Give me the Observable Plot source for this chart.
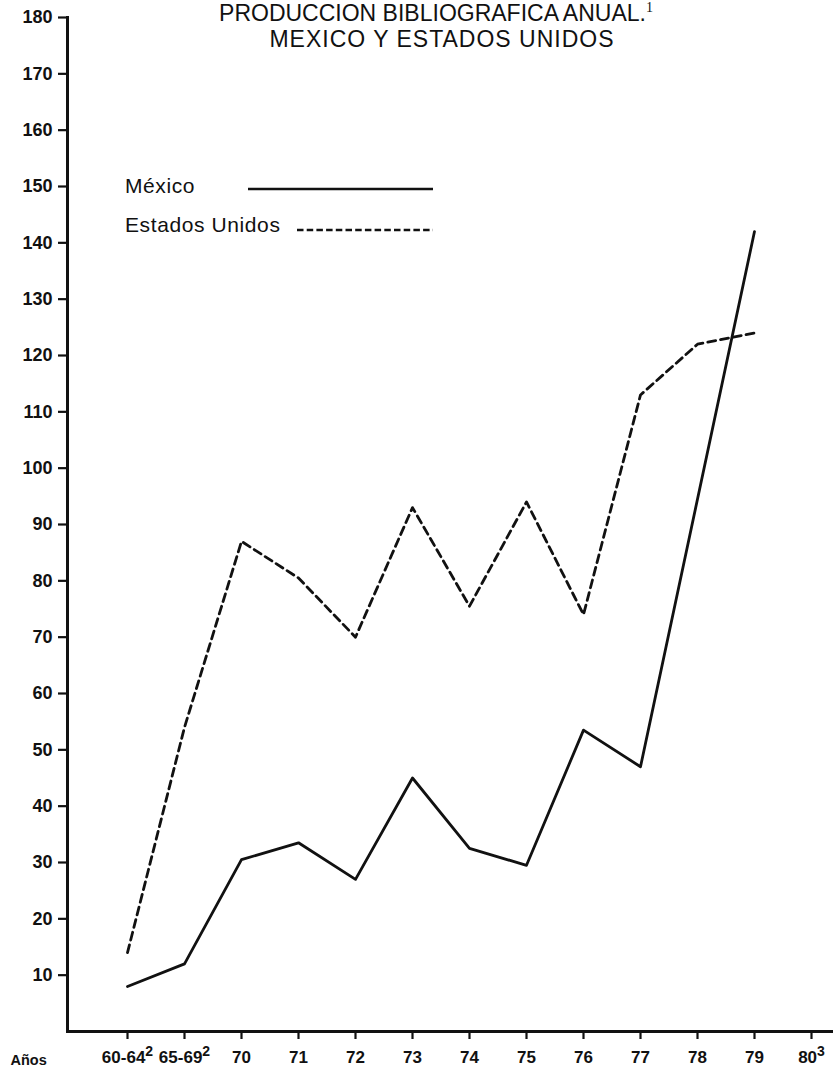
<!DOCTYPE html>
<html>
<head>
<meta charset="utf-8">
<script src="https://cdn.jsdelivr.net/npm/d3@7"></script>
<script src="https://cdn.jsdelivr.net/npm/@observablehq/plot@0.6"></script>
<style>
  html, body { margin: 0; padding: 0; background: #fff; }
  #wrap { position: relative; width: 833px; height: 1074px; overflow: hidden; }
  #overlay { position: absolute; left: 0; top: 0; pointer-events: none; }
</style>
</head>
<body>
<div id="wrap">
  <div id="chart"></div>
</div>
<script>
// ---- data ----
const categories = ["60-64", "65-69", "70", "71", "72", "73", "74", "75", "76", "77", "78", "79", "80"];
const tickLabels = ["60-64", "65-69", "70", "71", "72", "73", "74", "75", "76", "77", "78", "79", "80"];
const tickNotes = ["2", "2", "", "", "", "", "", "", "", "", "", "", "3"];
const mexico = [8, 12, 30.5, 33.5, 27, 45, 32.5, 29.5, 53.5, 47, null, 142, null];
const estadosUnidos = [14, 54, 87, 80.5, 70, 93, 75.5, 94, 74, 113, 122, 124, null];
const yTicks = [10, 20, 30, 40, 50, 60, 70, 80, 90, 100, 110, 120, 130, 140, 150, 160, 170, 180];
const seriesNames = ["México", "Estados Unidos"];
const titleLines = ["PRODUCCION BIBLIOGRAFICA ANUAL.", "MEXICO Y ESTADOS UNIDOS"];
const titleNote = "1";
const xAxisName = "Años";

const rows = [];
categories.forEach((c, i) => {
  rows.push({cat: c, serie: seriesNames[0], v: mexico[i]});
  rows.push({cat: c, serie: seriesNames[1], v: estadosUnidos[i]});
});
const labelOf = new Map(categories.map((c, i) => [c, tickLabels[i]]));
const noteOfLabel = new Map(tickLabels.map((l, i) => [l, tickNotes[i]]));

const chart = Plot.plot({
  width: 833,
  height: 1074,
  marginLeft: 67,
  marginRight: 0,
  marginTop: 17,
  marginBottom: 43,
  style: {fontFamily: "'Liberation Sans', Arial, sans-serif", color: "#111", background: "#fff"},
  x: {type: "point", domain: categories, range: [126, 811], padding: 0},
  y: {domain: [0, 180], range: [1031, 17]},
  marks: [
    Plot.axisY({ticks: yTicks, tickSize: 9, tickPadding: 6, tickFormat: d => d, label: null,
      fontSize: 18, fontWeight: "bold", strokeWidth: 2.2}),
    Plot.axisX({tickSize: 8, tickPadding: 11, tickFormat: d => labelOf.get(d), label: null,
      fontSize: 17, fontWeight: "bold", strokeWidth: 2.2}),
    Plot.frame({anchor: "left", strokeWidth: 3, stroke: "#111"}),
    Plot.frame({anchor: "bottom", strokeWidth: 3, stroke: "#111"}),
    Plot.text([xAxisName], {frameAnchor: "bottom-left", dx: -57, dy: 33, fontSize: 14.5, fontWeight: "bold", textAnchor: "start"}),
    Plot.line(rows, {filter: d => d.serie === "México" && d.v != null, x: "cat", y: "v",
      stroke: "#111", strokeWidth: 2.8}),
    Plot.line(rows, {filter: d => d.serie === "Estados Unidos" && d.v != null, x: "cat", y: "v",
      stroke: "#111", strokeWidth: 2.8, strokeDasharray: "8,5"})
  ]
});
document.getElementById("chart").append(chart);

// superscript notes on x tick labels
d3.select(chart).selectAll('g[aria-label="x-axis tick label"] text').each(function() {
  const note = noteOfLabel.get(this.textContent.trim());
  if (note) {
    d3.select(this).append("tspan").attr("dy", "-0.45em").attr("font-size", 14).attr("font-weight", "bold").text(note);
  }
});

// overlay: title + legend
const ov = d3.select("#wrap").append("svg").attr("id", "overlay").attr("width", 833).attr("height", 260)
  .style("font-family", "'Liberation Sans', Arial, sans-serif").style("fill", "#111");
const t1 = ov.append("text").attr("x", 436).attr("y", 21).attr("text-anchor", "middle").attr("font-size", 23).text(titleLines[0]);
t1.append("tspan").attr("dy", -9).attr("font-size", 14).attr("font-family", "'Liberation Serif', serif").text(titleNote);
ov.append("text").attr("x", 442).attr("y", 47).attr("text-anchor", "middle").attr("font-size", 23)
  .attr("letter-spacing", 1).text(titleLines[1]);

const legendSpec = [
  {name: seriesNames[0], y: 193, x1: 248, x2: 433, ly: 189, dash: null},
  {name: seriesNames[1], y: 232, x1: 297, x2: 433, ly: 230, dash: "6.5,3.2"}
];
legendSpec.forEach(s => {
  ov.append("text").attr("x", 125).attr("y", s.y).attr("font-size", 21).attr("letter-spacing", 0.6).text(s.name);
  ov.append("line").attr("x1", s.x1).attr("x2", s.x2).attr("y1", s.ly).attr("y2", s.ly)
    .attr("stroke", "#111").attr("stroke-width", 2.6).attr("stroke-dasharray", s.dash);
});
</script>
</body>
</html>
